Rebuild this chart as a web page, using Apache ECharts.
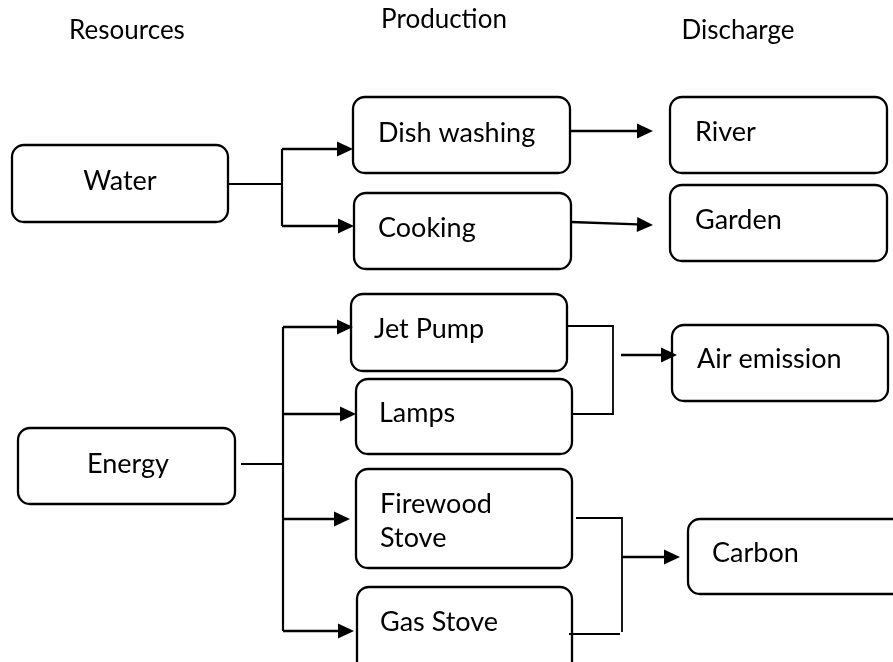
<!DOCTYPE html>
<html>
<head>
<meta charset="utf-8">
<script src="https://cdn.jsdelivr.net/npm/echarts@6/dist/echarts.min.js"></script>
<style>html,body{margin:0;padding:0;background:#fff}#c{width:893px;height:662px}</style>
</head>
<body>
<div id="c"></div>
<script>
// Column headers
const headerText = ['Resources', 'Production', 'Discharge'];
const headerX = [127, 444, 738];
const headerY = [31, 20, 31];

// Boxes (diagram units)
const boxNames = ['Water', 'Dish washing', 'Cooking', 'River', 'Garden', 'Energy', 'Jet Pump', 'Lamps', 'Firewood\nStove', 'Gas Stove', 'Air emission', 'Carbon'];
const boxLeft = [12, 353, 354, 670, 670, 18, 351, 356, 356, 357, 672, 688];
const boxTop = [145, 97, 193, 97, 185, 428, 294, 379, 469, 587, 325, 519];
const boxRight = [228, 570, 571, 887, 887, 235, 567, 572, 572, 572, 888, 910];
const boxBottom = [222, 173, 269, 173, 261, 504, 371, 454, 568, 680, 401, 594];
const labelX = [120, 378, 378, 695, 695, 128, 374, 379, 380, 380, 697, 712];
const labelY = [181, 133, 228, 132, 220, 464, 329, 413, 521, 622, 359, 553];
const labelCentered = [true, false, false, false, false, true, false, false, false, false, false, false];

// Plain connector lines
const connectors = [
  [[228, 184], [282, 184]],
  [[282, 149], [282, 226]],
  [[241, 464], [283, 464]],
  [[283, 327], [283, 631]],
  [[567, 326], [613, 326], [613, 414], [572, 414]],
  [[576, 518], [622, 518], [622, 632]],
  [[569, 634], [620, 634]]
];
const connectorWidth = [2.2, 2.2, 1.8, 2.2, 1.8, 1.8, 1.8];

// Arrows (head at the last point)
const arrows = [
  [[282, 149], [353, 149]],
  [[282, 226], [354, 226]],
  [[570, 131], [653, 131]],
  [[571, 222], [653, 225]],
  [[283, 327], [353, 327]],
  [[283, 414], [356, 414]],
  [[283, 519], [350, 519]],
  [[283, 631], [354, 631]],
  [[621, 355], [677, 355]],
  [[622, 557], [680, 557]]
];

const FONT = 'Lato, "Open Sans", sans-serif';
const FS = 27;

const chart = echarts.init(document.getElementById('c'), null, {renderer: 'canvas'});

const option = {
  animation: false,
  backgroundColor: '#ffffff',
  grid: {left: 0, right: 0, top: 0, bottom: 0},
  xAxis: {type: 'value', min: 0, max: 893, show: false},
  yAxis: {type: 'value', min: 0, max: 662, inverse: true, show: false},
  series: [
    {
      type: 'custom',
      name: 'headers',
      silent: true,
      data: headerText.map((t, i) => [headerX[i], headerY[i]]),
      renderItem: function (params, api) {
        const p = api.coord([api.value(0), api.value(1)]);
        return {
          type: 'text',
          style: {
            text: headerText[params.dataIndex],
            x: p[0], y: p[1],
            align: 'center', verticalAlign: 'middle',
            fill: '#000', font: '26px ' + FONT
          }
        };
      }
    },
    {
      type: 'custom',
      name: 'boxes',
      silent: true,
      data: boxNames.map((n, i) => [boxLeft[i], boxTop[i], boxRight[i], boxBottom[i], labelX[i], labelY[i]]),
      renderItem: function (params, api) {
        const i = params.dataIndex;
        const a = api.coord([api.value(0), api.value(1)]);
        const b = api.coord([api.value(2), api.value(3)]);
        const t = api.coord([api.value(4), api.value(5)]);
        return {
          type: 'group',
          children: [
            {
              type: 'rect',
              shape: {x: a[0], y: a[1], width: b[0] - a[0], height: b[1] - a[1], r: 12},
              style: {fill: '#fff', stroke: '#000', lineWidth: 2.3}
            },
            {
              type: 'text',
              style: {
                text: boxNames[i],
                x: t[0], y: t[1],
                align: labelCentered[i] ? 'center' : 'left',
                verticalAlign: 'middle',
                lineHeight: 34,
                fill: '#000', font: FS + 'px ' + FONT
              }
            }
          ]
        };
      }
    },
    {
      type: 'custom',
      name: 'connectors',
      silent: true,
      data: connectors.map((c, i) => [i]),
      renderItem: function (params, api) {
        const pts = connectors[params.dataIndex].map(p => api.coord(p));
        return {
          type: 'polyline',
          shape: {points: pts},
          style: {fill: null, stroke: '#000', lineWidth: connectorWidth[params.dataIndex]}
        };
      }
    },
    {
      type: 'custom',
      name: 'arrows',
      silent: true,
      data: arrows.map((c, i) => [i]),
      renderItem: function (params, api) {
        const pts = arrows[params.dataIndex].map(p => api.coord(p));
        const e = pts[pts.length - 1];
        const s = pts[pts.length - 2];
        const ang = Math.atan2(e[1] - s[1], e[0] - s[0]);
        const L = 16, W = 7.5;
        const bx = e[0] - L * Math.cos(ang), by = e[1] - L * Math.sin(ang);
        const nx = -Math.sin(ang) * W, ny = Math.cos(ang) * W;
        const linePts = pts.slice(0, -1).concat([[bx + 1, by]]);
        return {
          type: 'group',
          children: [
            {type: 'polyline', shape: {points: linePts}, style: {fill: null, stroke: '#000', lineWidth: 2.3}},
            {type: 'polygon', shape: {points: [e, [bx + nx, by + ny], [bx - nx, by - ny]]}, style: {fill: '#000'}}
          ]
        };
      }
    }
  ]
};
chart.setOption(option);
</script>
</body>
</html>
